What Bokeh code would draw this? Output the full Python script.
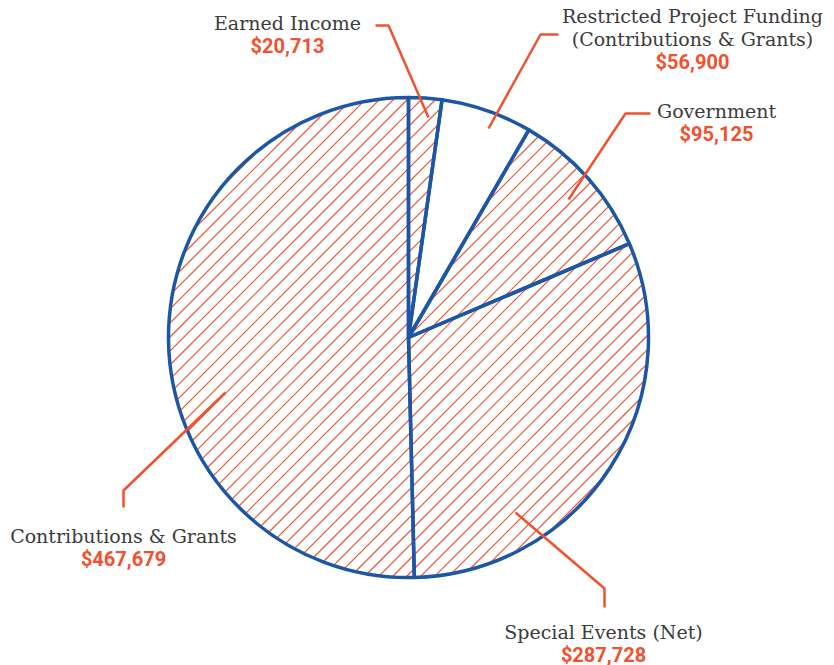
import numpy as np
from bokeh.plotting import figure
from bokeh.models import Range1d, ColumnDataSource
from bokeh.core.properties import value
from bokeh.embed import file_html
from bokeh.resources import INLINE

# ---- data ----
categories = ["Earned Income", "Restricted Project Funding\n(Contributions & Grants)",
              "Government", "Special Events (Net)", "Contributions & Grants"]
amounts = [20713, 56900, 95125, 287728, 467679]
hatched = [True, False, True, True, True]

# ---- layout constants (image pixel coordinates) ----
W, H = 834, 665
PAGE_H = 665
cx, cy, R = 408, 337, 240
HATCH_STEP = 14

def Y(y):
    return PAGE_H - y

BLUE = "#1c56a6"
RED = "#f0512f"
GREY = "#3b3b3b"

p = figure(width=W, height=H, output_backend="svg", toolbar_location=None,
           x_range=Range1d(0, W), y_range=Range1d(0, H), min_border=0)
p.axis.visible = False
p.grid.visible = False
p.outline_line_color = None
p.background_fill_color = "white"
p.border_fill_color = "white"

vals = np.array(amounts, dtype=float)
fr = vals / vals.sum()
ends = np.pi / 2 - 2 * np.pi * np.cumsum(fr)
starts = np.concatenate([[np.pi / 2], ends[:-1]])

# diagonal hatch lines across the disc ("/" direction)
Yc = Y(cy)
r_h = R - 1
xs, ys = [], []
b = -r_h * np.sqrt(2) + 3
while b < r_h * np.sqrt(2):
    disc = 2 * r_h ** 2 - b ** 2
    if disc > 0:
        d1 = (-b - np.sqrt(disc)) / 2
        d2 = (-b + np.sqrt(disc)) / 2
        xs.append([cx + d1, cx + d2])
        ys.append([Yc + d1 + b, Yc + d2 + b])
    b += HATCH_STEP
p.multi_line(xs, ys, line_color=RED, line_width=1.2)

src = ColumnDataSource(dict(
    x=[cx] * len(vals), y=[Yc] * len(vals),
    start=ends, end=starts,
    fill=[None if h else "white" for h in hatched],
))
# blank (unhatched) slices cover the hatching
p.wedge(x="x", y="y", radius=R, radius_units="screen", start_angle="start", end_angle="end",
        source=src, fill_color="fill", line_color=None)
# outlines
p.wedge(x="x", y="y", radius=R, radius_units="screen", start_angle="start", end_angle="end",
        source=src, fill_color=None, line_color=BLUE, line_width=3.5)

# leader lines
leaders = [
    [(428, 117), (388, 25), (375, 25)],
    [(488, 128), (540, 34), (558, 34)],
    [(568, 199), (625, 113), (650, 113)],
    [(515, 512), (604, 588), (604, 607)],
    [(225, 392), (123, 490), (123, 507)],
]
for pts in leaders:
    p.line([q[0] for q in pts], [Y(q[1]) for q in pts], line_color=RED, line_width=2.5)

# labels
label_pos = [(287, 22), (692, 15), (716, 110), (603, 631), (123, 535)]
LINE = 23
for cat, amt, (lx, ly) in zip(categories, amounts, label_pos):
    lines = cat.split("\n")
    for i, t in enumerate(lines):
        p.text([lx], [Y(ly + i * LINE)], text=[t], text_align="center", text_baseline="middle",
               text_font=value("DejaVu Serif"), text_font_size="19px", text_color=GREY)
    p.text([lx], [Y(ly + len(lines) * LINE)], text=["${:,}".format(amt)], text_align="center",
           text_baseline="middle", text_font=value("Roboto"), text_font_style="bold",
           text_font_size="20px", text_color=RED)

open("out.html", "w").write(file_html(p, INLINE))
